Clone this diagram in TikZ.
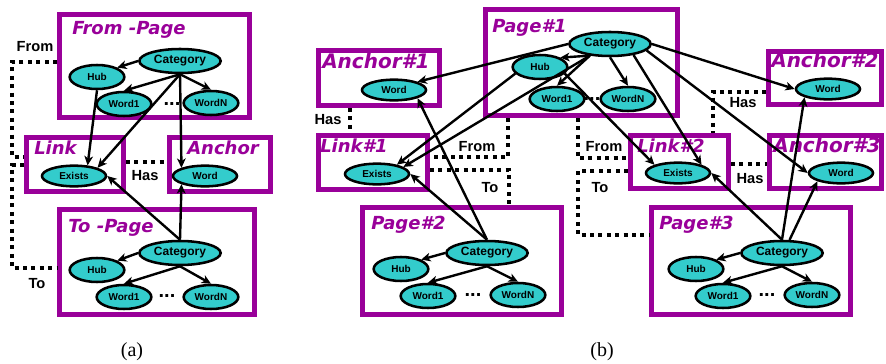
\documentclass[tikz,border=0pt]{standalone}
\usepackage{fontspec}
\setmainfont{Liberation Sans}
\newfontfamily\titlefont{DejaVu Sans}
\newfontfamily\capfont{Liberation Serif}
\usetikzlibrary{shapes.geometric, arrows.meta}
\definecolor{purp}{HTML}{990099}
\definecolor{turq}{HTML}{33CCCC}

\begin{document}
\begin{tikzpicture}[x=0.75pt, y=-0.75pt]
    \tikzstyle{pagebox} = [rectangle, draw=purp, line width=3.75pt, inner sep=0pt]
    \tikzstyle{boxtitle} = [anchor=base west, inner sep=0pt, text=purp, font=\titlefont\bfseries\itshape\fontsize{13.5pt}{15pt}\selectfont]
    \tikzstyle{bigtitle} = [boxtitle, font=\titlefont\bfseries\itshape\fontsize{15pt}{17pt}\selectfont]
    \tikzstyle{catnode} = [ellipse, draw=black, line width=1.9pt, fill=turq, minimum width=61pt, minimum height=18pt, inner sep=0pt, font=\bfseries\fontsize{9pt}{10pt}\selectfont]
    \tikzstyle{wordnode} = [catnode, minimum width=41pt, font=\bfseries\fontsize{7.5pt}{9pt}\selectfont]
    \tikzstyle{attrnode} = [catnode, minimum width=48pt, minimum height=15.5pt, font=\bfseries\fontsize{7.5pt}{9pt}\selectfont]
    \tikzstyle{dots} = [inner sep=0pt, font=\bfseries\fontsize{15pt}{15pt}\selectfont]
    \tikzstyle{arrow} = [line width=1.8pt,->,>={Stealth[length=7pt,width=6.5pt,inset=2pt]}]
    \tikzstyle{dotline} = [line width=3pt, dash pattern=on 3pt off 3.3pt]
    \tikzstyle{lbl} = [inner sep=0pt, font=\bfseries\fontsize{11pt}{13pt}\selectfont]
    \tikzstyle{caption} = [inner sep=0pt, font=\capfont\fontsize{15pt}{17pt}\selectfont]

    \useasboundingbox (0,0) rectangle (886,364);

    % (a) boxes
    \node (frompage) [pagebox, minimum width=142.5pt, minimum height=77.25pt] at (154.5,66) {};
    \node (link) [pagebox, minimum width=72.75pt, minimum height=40.5pt] at (75,164.5) {};
    \node (anchor) [pagebox, minimum width=75.75pt, minimum height=40.5pt] at (220,164.5) {};
    \node (topage) [pagebox, minimum width=146.25pt, minimum height=78.75pt] at (157,262) {};
    \node (fromtitle) [boxtitle] at (72,35) {From -Page};
    \node (linktitle) [boxtitle] at (34,154) {Link};
    \node (anchortitle) [boxtitle] at (187,154) {Anchor};
    \node (totitle) [boxtitle] at (68,232) {To -Page};

    % (b) boxes
    \node (page1) [pagebox, minimum width=144pt, minimum height=79.5pt] at (581.5,62.5) {};
    \node (anchor1) [pagebox, minimum width=90.75pt, minimum height=41.25pt] at (379,78) {};
    \node (anchor2) [pagebox, minimum width=84.75pt, minimum height=39.75pt] at (825,78) {};
    \node (link1) [pagebox, minimum width=81.75pt, minimum height=40.5pt] at (373,162.5) {};
    \node (link2) [pagebox, minimum width=73.5pt, minimum height=39.75pt] at (679.5,162) {};
    \node (anchor3) [pagebox, minimum width=84pt, minimum height=39.75pt] at (825.5,162) {};
    \node (page2) [pagebox, minimum width=149.25pt, minimum height=80.25pt] at (462,261) {};
    \node (page3) [pagebox, minimum width=149.25pt, minimum height=80.25pt] at (751,261) {};
    \node (p1title) [boxtitle] at (492,32) {Page\#1};
    \node (a1title) [bigtitle] at (322,68) {Anchor\#1};
    \node (a2title) [bigtitle] at (771,67) {Anchor\#2};
    \node (l1title) [boxtitle] at (320,152) {Link\#1};
    \node (l2title) [boxtitle] at (637,152) {Link\#2};
    \node (a3title) [bigtitle] at (773,152) {Anchor\#3};
    \node (p2title) [boxtitle] at (371,229) {Page\#2};
    \node (p3title) [boxtitle] at (659,229) {Page\#3};

    % (a) ellipses
    \node (fpCat) [catnode] at (180,61) {Category};
    \node (fpHub) [wordnode] at (97,77) {Hub};
    \node (fpW1) [wordnode] at (124,104) {Word1};
    \node (fpWN) [wordnode] at (211,103) {WordN};
    \node (fpDots) [dots] at (172,104) {...};
    \node (lkEx) [attrnode] at (74,176) {Exists};
    \node (anWord) [attrnode] at (205,176) {Word};
    \node (tpCat) [catnode] at (180,253) {Category};
    \node (tpHub) [wordnode] at (97,270) {Hub};
    \node (tpW1) [wordnode] at (124,297) {Word1};
    \node (tpWN) [wordnode] at (211,297) {WordN};
    \node (tpDots) [dots] at (167,296) {...};

    % (b) ellipses
    \node (p1Cat) [catnode] at (610,44) {Category};
    \node (p1Hub) [wordnode] at (540,67) {Hub};
    \node (p1W1) [wordnode] at (557,99) {Word1};
    \node (p1WN) [wordnode] at (628,99) {WordN};
    \node (p1Dots) [dots] at (592,99) {...};
    \node (a1Word) [attrnode] at (394,90) {Word};
    \node (a2Word) [attrnode] at (828,89) {Word};
    \node (l1Ex) [attrnode] at (377,174) {Exists};
    \node (l2Ex) [attrnode] at (678,173) {Exists};
    \node (a3Word) [attrnode] at (841,173) {Word};
    \node (p2Cat) [catnode] at (487,253) {Category};
    \node (p2Hub) [wordnode] at (401,269) {Hub};
    \node (p2W1) [wordnode] at (428,296) {Word1};
    \node (p2WN) [wordnode] at (518,295) {WordN};
    \node (p2Dots) [dots] at (473,295) {...};
    \node (p3Cat) [catnode] at (782,253) {Category};
    \node (p3Hub) [wordnode] at (696,269) {Hub};
    \node (p3W1) [wordnode] at (723,296) {Word1};
    \node (p3WN) [wordnode] at (812,295) {WordN};
    \node (p3Dots) [dots] at (767,295) {...};

    % arrows inside the pages
    \draw [arrow] (fpCat.west) -- (fpHub.north east);
    \draw [arrow] (fpCat.south) -- (fpW1.north);
    \draw [arrow] (fpCat.south) -- (fpWN.north);
    \draw [arrow] (tpCat.west) -- (tpHub.north east);
    \draw [arrow] (tpCat.south) -- (tpW1.north);
    \draw [arrow] (tpCat.south) -- (tpWN.north);
    \draw [arrow] (p1Cat.-150) -- (p1Hub.north east);
    \draw [arrow] (p1Cat.-150) -- (p1W1.north);
    \draw [arrow] (p1Cat.south) -- (p1WN.north);
    \draw [arrow] (p2Cat.west) -- (p2Hub.north east);
    \draw [arrow] (p2Cat.south) -- (p2W1.north);
    \draw [arrow] (p2Cat.south) -- (p2WN.north);
    \draw [arrow] (p3Cat.west) -- (p3Hub.north east);
    \draw [arrow] (p3Cat.south) -- (p3W1.north);
    \draw [arrow] (p3Cat.south) -- (p3WN.north);

    % (a) arrows between boxes
    \draw [arrow] (fpHub.south) -- (lkEx.38);
    \draw [arrow] (fpCat.south) -- (lkEx.north east);
    \draw [arrow] (fpCat.south) -- (anWord.north west);
    \draw [arrow] (tpCat.north) -- (lkEx.east);
    \draw [arrow] (tpCat.north) -- (anWord.south west);

    % (b) arrows between boxes
    \draw [arrow] (p1Cat.west) -- (a1Word.north east);
    \draw [arrow] (p1Hub.-165) -- (l1Ex.25);
    \draw [arrow] (p1Cat.-150) -- (l1Ex.15);
    \draw [arrow] (p1Hub.-15) -- (l2Ex.north west);
    \draw [arrow] (p1Cat.-25) -- (l2Ex.north east);
    \draw [arrow] (p1Cat.east) -- (a2Word.west);
    \draw [arrow] (p1Cat.-10) -- (a3Word.west);
    \draw [arrow] (p2Cat.north) -- (l1Ex.east);
    \draw [arrow] (p2Cat.north) -- (a1Word.south east);
    \draw [arrow] (p3Cat.north) -- (l2Ex.east);
    \draw [arrow] (p3Cat.north) -- (a2Word.south west);
    \draw [arrow] (p3Cat.60) -- (a3Word.south west);

    % (a) dotted links
    \draw [dotline] ([yshift=3pt]frompage.west) -| ([xshift=-9pt,yshift=5.5pt]link.west) -- ([yshift=5.5pt]link.west);
    \draw [dotline] ([yshift=-0.4pt]link.west) -- ++(-9pt,0) |- ([yshift=-4.5pt]topage.west);
    \draw [dotline] ([yshift=2pt]link.east) -- ([yshift=2pt]link.east -| anchor.west);
    \node (fromA) [lbl] at (35,47) {From};
    \node (toA) [lbl] at (37,284) {To};
    \node (hasA) [lbl] at (145,176) {Has};

    % (b) dotted links
    \draw [dotline] ([xshift=-22pt]anchor1.south) -- ([xshift=-22pt]anchor1.south |- link1.north);
    \draw [dotline] ([yshift=-10.5pt]anchor2.west) -| ([xshift=25pt]link2.north);
    \draw [dotline] ([yshift=-1.5pt]link2.east) -- ([yshift=-1.5pt]link2.east -| anchor3.west);
    \draw [dotline] ([xshift=18.75pt]page1.south west) |- ([yshift=4.1pt]link1.east);
    \draw [dotline] ([yshift=-5.6pt]link1.east) -| ([xshift=111.75pt]page2.north west);
    \draw [dotline] ([xshift=71.25pt]page1.south west) |- ([yshift=3pt]link2.west);
    \draw [dotline] ([yshift=-6.75pt]link2.west) -- ++(-37.5pt,0) |- ([yshift=19.5pt]page3.west);
    \node (has1) [lbl] at (328,120) {Has};
    \node (from1) [lbl] at (477,147) {From};
    \node (to1) [lbl] at (490,188) {To};
    \node (from2) [lbl] at (604,147) {From};
    \node (to2) [lbl] at (600,188) {To};
    \node (has2) [lbl] at (743,103) {Has};
    \node (has3) [lbl] at (750,179) {Has};

    \node (capa) [caption] at (132,352) {(a)};
    \node (capb) [caption] at (602,352) {(b)};
\end{tikzpicture}
\end{document}
